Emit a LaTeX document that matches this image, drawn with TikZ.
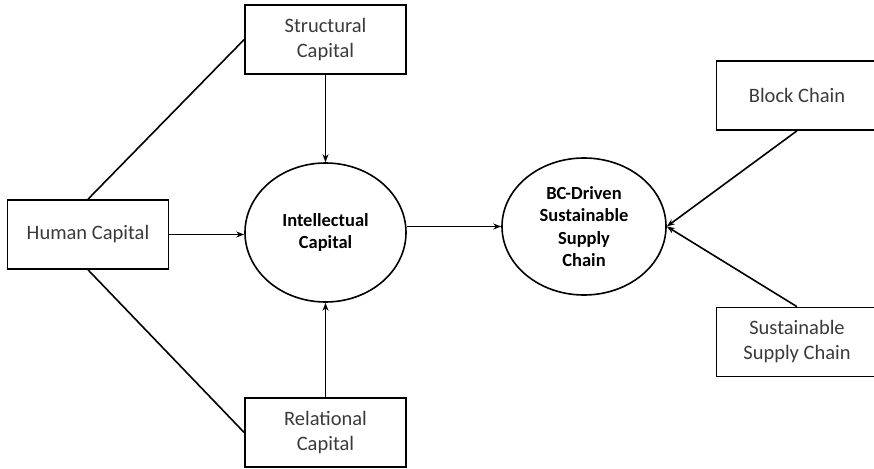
\documentclass[tikz,border=0pt]{standalone}
\usepackage{fontspec}
\setmainfont{Carlito}
\usetikzlibrary{shapes.geometric,arrows.meta}
\definecolor{txtgray}{HTML}{3A3A3A}
\begin{document}
\begin{tikzpicture}[x=1pt,y=-1pt,
  every node/.style={inner sep=0pt},
  box/.style={draw=black, line width=1.6pt, minimum width=161pt, minimum height=69pt,
    align=center, text=txtgray, font=\fontsize{20.5}{25}\selectfont},
  oval/.style={draw=black, line width=1.6pt, ellipse, align=center, text=black,
    font=\bfseries\fontsize{18.5}{22.3}\selectfont},
  link/.style={draw=black, line width=1.6pt},
  arr/.style={link, -{Stealth[length=8pt,width=6pt]}}]
\useasboundingbox (0,0) rectangle (874,468);

% rectangles
\node[box] (struct) at (325.5,39.5) {Structural\\Capital};
\node[box] (human)  at (88,234.5)   {Human Capital};
\node[box] (rel)    at (325.5,432.5){Relational\\Capital};
\node[box] (block)  at (797,95.5)   {Block Chain};
\node[box] (ssc)    at (797,342)    {Sustainable\\Supply Chain};

% ellipses
\node[oval, minimum width=161pt, minimum height=139pt] (ic) at (325.5,232.5) {Intellectual\\Capital};
\node[oval, minimum width=164pt, minimum height=137pt] (bc) at (584,226.5) {BC-Driven\\Sustainable\\Supply\\Chain};

% plain links from Human Capital
\draw[link] (human.north) -- (struct.west);
\draw[link] (human.south) -- (rel.west);

% arrows into Intellectual Capital
\draw[arr] (struct.south) -- (ic.north);
\draw[arr] (rel.north) -- (ic.south);
\draw[arr] (human.east) -- (human.east -| ic.west);

% Intellectual Capital to BC-driven chain
\draw[arr] (ic.east |- bc.west) -- (bc.west);

% converging arrows on the right
\draw[arr] (block.south) -- (bc.east);
\draw[arr] (ssc.north) -- (bc.east);
\end{tikzpicture}
\end{document}
